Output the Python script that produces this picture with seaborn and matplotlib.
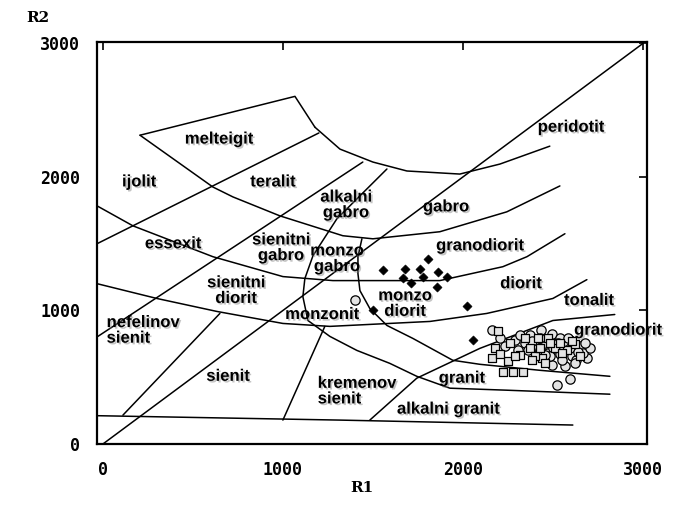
import numpy as np
import pandas as pd
import matplotlib
matplotlib.use("Agg")
import matplotlib.pyplot as plt
import matplotlib.patheffects as pe
import seaborn as sns

# R1-R2 (De la Roche) classification diagram with sample points

# boundary lines (R1, R2)
melteigit_top_x = [206, 1067, 1178]
melteigit_top_y = [2313, 2604, 2373]

curve_a_x = [1178, 1317, 1500, 1689, 1983, 2206, 2483]
curve_a_y = [2373, 2209, 2112, 2045, 2022, 2097, 2231]

curve_b_x = [206, 611, 722, 983, 1333, 1500, 1872, 2244, 2539]
curve_b_y = [2313, 1925, 1851, 1709, 1560, 1537, 1590, 1739, 1933]

curve_c_x = [-33, 167, 611, 1000, 1278, 1872, 2222, 2356, 2567]
curve_c_y = [1784, 1634, 1403, 1254, 1224, 1224, 1328, 1403, 1575]

curve_d_x = [-33, 300, 633, 1000, 1261, 1817, 2133, 2500, 2689]
curve_d_y = [1201, 1090, 993, 903, 881, 918, 978, 1090, 1231]

curve_e_x = [1483, 1744, 2094, 2500, 2844]
curve_e_y = [179, 493, 716, 925, 970]

outer_arc_x = [1578, 1300, 1167, 1122, 1111, 1139, 1261, 1411, 1594, 1744, 1928, 2244, 2817]
outer_arc_y = [2060, 1687, 1410, 1239, 1104, 925, 806, 701, 604, 507, 418, 403, 373]

inner_arc_x = [1439, 1417, 1417, 1428, 1483, 1578, 1722, 1944, 2094, 2428, 2817]
inner_arc_y = [1537, 1403, 1276, 1149, 1015, 888, 791, 627, 597, 552, 507]

bottom_x = [-33, 1317, 2611]
bottom_y = [212, 179, 142]

diag_x = [0, 3000]
diag_y = [0, 3000]
line1_x = [-33, 1200]
line1_y = [1500, 2330]
line_a_x = [-28, 1444]
line_a_y = [806, 2112]
line_ne_x = [111, 650]
line_ne_y = [216, 978]
line_kr_x = [1233, 1000]
line_kr_y = [881, 179]

boundaries = [
    (melteigit_top_x, melteigit_top_y), (curve_a_x, curve_a_y),
    (curve_b_x, curve_b_y), (curve_c_x, curve_c_y), (curve_d_x, curve_d_y),
    (curve_e_x, curve_e_y), (outer_arc_x, outer_arc_y), (inner_arc_x, inner_arc_y),
    (bottom_x, bottom_y), (diag_x, diag_y), (line1_x, line1_y),
    (line_a_x, line_a_y), (line_ne_x, line_ne_y), (line_kr_x, line_kr_y),
]

# samples
diamond_r1 = [1556, 1678, 1761, 1806, 1861, 1911, 1778, 1667, 1711, 1856, 1500, 2022, 2056]
diamond_r2 = [1306, 1313, 1313, 1388, 1291, 1254, 1254, 1246, 1209, 1179, 1007, 1030, 776]

circle_r1 = [2161, 2206, 2372, 2433, 2494, 2539, 2594, 2650, 2689, 2622, 2567, 2511,
             2456, 2400, 2344, 2289, 2233, 2472, 2539, 2606, 2667, 2494, 2567, 2594,
             2522, 2428, 2361, 2306, 2550, 2628, 2706, 2317, 1400,
             2500, 2556, 2594, 2639, 2483, 2528, 2583, 2428, 2383, 2678, 2456, 2622]
circle_r2 = [851, 791, 813, 851, 821, 791, 776, 731, 642, 701, 731, 746,
             754, 731, 754, 776, 731, 679, 672, 657, 679, 590, 582, 485,
             440, 701, 701, 701, 627, 627, 716, 813, 1075,
             716, 701, 716, 687, 657, 754, 791, 791, 769, 754, 664, 604]

square_r1 = [2178, 2161, 2250, 2222, 2278, 2333, 2317, 2194, 2261, 2372, 2439, 2400,
             2511, 2578, 2472, 2417, 2344, 2206, 2289, 2539, 2622, 2456, 2383,
             2483, 2550, 2606, 2428, 2650]
square_r2 = [716, 642, 619, 537, 537, 537, 664, 843, 754, 716, 642, 657,
             716, 701, 791, 791, 791, 672, 657, 754, 746, 604, 627,
             754, 679, 769, 716, 657]

# field names
field_names = ["melteigit", "ijolit", "teralit", "alkalni\ngabro", "gabro", "peridotit",
               "essexit", "sienitni\ngabro", "monzo\ngabro", "granodiorit",
               "sienitni\ndiorit", "monzo\ndiorit", "diorit", "tonalit", "monzonit",
               "nefelinov\nsienit", "granodiorit", "sienit", "kremenov\nsienit",
               "granit", "alkalni granit"]
field_r1 = [644, 200, 944, 1350, 1906, 2600, 389, 989, 1300, 2094, 739, 1678, 2322,
            2700, 1217, 222, 2861, 694, 1411, 1994, 1917]
field_r2 = [2284, 1963, 1963, 1791, 1776, 2373, 1500, 1470, 1388, 1485, 1149, 1052,
            1201, 1075, 970, 851, 852, 507, 396, 493, 261]
left_aligned = ["nefelinov\nsienit", "kremenov\nsienit"]

sns.set_style("white")
plt.rcParams['font.family'] = ['Liberation Sans', 'DejaVu Sans']
plt.rcParams['text.color'] = 'black'
plt.rcParams['xtick.color'] = 'black'
plt.rcParams['ytick.color'] = 'black'

fig = plt.figure(figsize=(6.83, 5.08), dpi=100)
ax = fig.add_axes([0.142, 0.126, 0.805, 0.791])

for bx, by in boundaries:
    sns.lineplot(x=bx, y=by, sort=False, estimator=None, color='black', linewidth=1.1, ax=ax)

sns.scatterplot(x=circle_r1, y=circle_r2, marker='o', s=45, facecolor='#e4e4e4',
                edgecolor='black', linewidth=0.9, ax=ax, zorder=3)
sns.scatterplot(x=square_r1, y=square_r2, marker='s', s=38, facecolor='#e4e4e4',
                edgecolor='black', linewidth=0.9, ax=ax, zorder=4)
sns.scatterplot(x=diamond_r1, y=diamond_r2, marker='D', s=22, color='black',
                edgecolor='black', ax=ax, zorder=5)

shadow = [pe.SimplePatchShadow(offset=(1.2, -1.2), shadow_rgbFace='gray', alpha=0.45),
          pe.Normal()]
for name, fx, fy in zip(field_names, field_r1, field_r2):
    box = None
    if name == "alkalni granit":
        box = dict(facecolor='white', edgecolor='none', pad=1)
    malign = 'left' if name in left_aligned else 'center'
    t = ax.text(fx, fy, name, fontsize=12, fontweight='bold', ha='center', va='center',
                multialignment=malign, linespacing=1.05, bbox=box, zorder=6)
    t.set_path_effects(shadow)

ax.set_xlim(-33, 3022)
ax.set_ylim(0, 3010)
ax.set_xticks([0, 1000, 2000, 3000])
ax.set_yticks([0, 1000, 2000, 3000])
ax.tick_params(direction='in', top=True, right=True, length=6, width=1.2, pad=12)
for lab in ax.get_xticklabels() + ax.get_yticklabels():
    lab.set_family('DejaVu Sans Mono')
    lab.set_fontweight('bold')
    lab.set_fontsize(12)
for sp in ax.spines.values():
    sp.set_linewidth(1.6)
    sp.set_color('black')

fig.text(38 / 683, 1 - 18 / 508, "R2", family='DejaVu Serif', fontweight='bold',
         fontsize=11, ha='center', va='center')
fig.text(362 / 683, 1 - 488 / 508, "R1", family='DejaVu Serif', fontweight='bold',
         fontsize=11, ha='center', va='center')

fig.savefig("out.png", dpi=100)
